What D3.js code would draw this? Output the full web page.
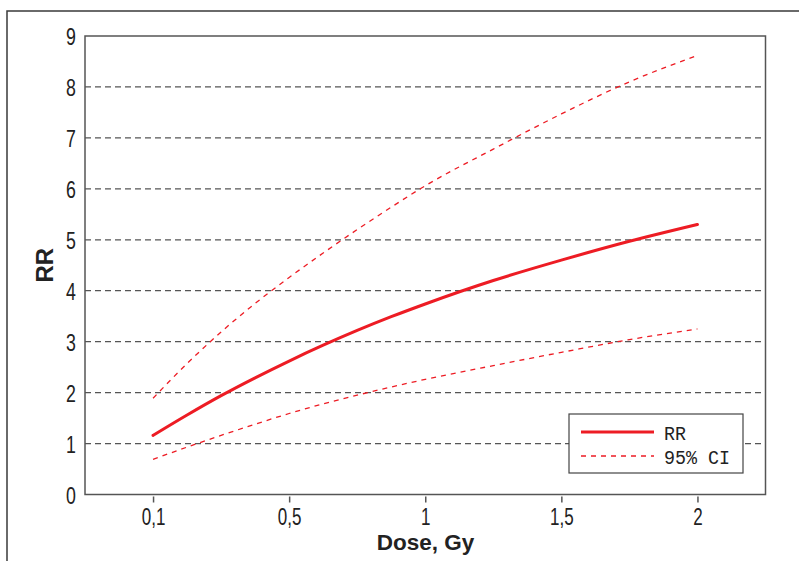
<!DOCTYPE html>
<html>
<head>
<meta charset="utf-8">
<script src="https://cdn.jsdelivr.net/npm/d3@7/dist/d3.min.js"></script>
<style>
  html, body { margin: 0; padding: 0; background: #fff; }
  svg { display: block; }
</style>
</head>
<body>
<svg id="chart" width="799" height="561"></svg>
<script>
// Dose categories shown on the x axis (Gy)
const doses = [0.1, 0.5, 1, 1.5, 2];
const doseLabels = ["0,1", "0,5", "1", "1,5", "2"];
const yTicks = [0, 1, 2, 3, 4, 5, 6, 7, 8, 9];

// Sampled dose points for the fitted curves
const curveDose = [0.1, 0.2, 0.3, 0.4, 0.5, 0.625, 0.75, 0.875, 1.0, 1.25, 1.5, 1.75, 2.0];
// Relative risk
const rr      = [1.16, 1.56, 1.94, 2.29, 2.62, 2.93, 3.22, 3.49, 3.74, 4.20, 4.60, 4.97, 5.30];
// 95% confidence interval bounds
const ciUpper = [1.89, 2.57, 3.19, 3.75, 4.26, 4.74, 5.20, 5.64, 6.06, 6.78, 7.47, 8.10, 8.62];
const ciLower = [0.69, 0.93, 1.16, 1.38, 1.59, 1.78, 1.95, 2.11, 2.26, 2.53, 2.79, 3.04, 3.25];

const legendItems = [
  { label: "RR", dashed: false },
  { label: "95% CI", dashed: true }
];

const svg = d3.select("#chart");
const margin = { left: 85, top: 36, right: 33.5, bottom: 66.5 };
const W = 799, H = 561;
const plotW = W - margin.left - margin.right;
const plotH = H - margin.top - margin.bottom;
const red = "#ed1c24";
const numFont = "'Liberation Sans', Arial, sans-serif";
const narrow = 0.74;

// Outer frame
svg.append("rect")
  .attr("x", 7).attr("y", 11)
  .attr("width", 820).attr("height", 600)
  .attr("fill", "none").attr("stroke", "#3a3a3a").attr("stroke-width", 1.5);

const g = svg.append("g").attr("transform", `translate(${margin.left},${margin.top})`);

// Categorical dose positions, then a piecewise-linear scale through them
const xPoint = d3.scalePoint().domain(doses).range([0, plotW]).padding(0.5);
const x = d3.scaleLinear()
  .domain(doses)
  .range(doses.map(d => xPoint(d)));
const y = d3.scaleLinear().domain([0, 9]).range([plotH, 0]);

// Horizontal dashed gridlines
g.append("g").selectAll("line")
  .data(yTicks.filter(t => t > 0 && t < 9))
  .join("line")
  .attr("x1", 0).attr("x2", plotW)
  .attr("y1", d => y(d)).attr("y2", d => y(d))
  .attr("stroke", "#555").attr("stroke-width", 1.2)
  .attr("stroke-dasharray", "6,4");

// Plot frame
g.append("rect")
  .attr("x", 0).attr("y", 0).attr("width", plotW).attr("height", plotH)
  .attr("fill", "none").attr("stroke", "#555").attr("stroke-width", 1.5);

// Y axis (condensed digits)
const yAxis = g.append("g")
  .call(d3.axisLeft(y).tickValues(yTicks).tickSize(0).tickFormat(d3.format("d")));
yAxis.select(".domain").remove();
yAxis.selectAll("text")
  .attr("font-family", numFont).attr("font-size", 24).attr("fill", "#222")
  .attr("x", -9 / narrow).attr("dy", "0.36em")
  .attr("transform", `scale(${narrow},1)`);

// X axis
const xAxis = g.append("g")
  .attr("transform", `translate(0,${plotH})`)
  .call(d3.axisBottom(xPoint).tickSize(0).tickPadding(0).tickFormat((d, i) => doseLabels[i]));
xAxis.select(".domain").remove();
xAxis.selectAll(".tick line").remove();
xAxis.selectAll(".tick").append("line")
  .attr("y1", 2).attr("y2", 8).attr("stroke", "#555").attr("stroke-width", 1.5);
xAxis.selectAll("text")
  .attr("font-family", numFont).attr("font-size", 23).attr("fill", "#222")
  .attr("y", 30.5).attr("dy", 0)
  .attr("transform", `scale(${narrow},1)`);

// Axis titles
svg.append("text")
  .attr("x", 425.5).attr("y", 550)
  .attr("text-anchor", "middle")
  .attr("font-family", "'Liberation Sans', Arial, sans-serif")
  .attr("font-weight", "bold").attr("font-size", 22.5).attr("fill", "#222")
  .text("Dose, Gy");
svg.append("text")
  .attr("transform", `translate(53,${margin.top + plotH / 2}) rotate(-90)`)
  .attr("text-anchor", "middle")
  .attr("font-family", "'Liberation Sans', Arial, sans-serif")
  .attr("font-weight", "bold").attr("font-size", 24).attr("fill", "#222")
  .text("RR");

// Curves
const line = d3.line()
  .x((d, i) => x(curveDose[i]))
  .y(d => y(d))
  .curve(d3.curveMonotoneX);

g.append("path").datum(ciUpper)
  .attr("d", line).attr("fill", "none")
  .attr("stroke", red).attr("stroke-width", 1.3).attr("stroke-dasharray", "5,5");
g.append("path").datum(ciLower)
  .attr("d", line).attr("fill", "none")
  .attr("stroke", red).attr("stroke-width", 1.3).attr("stroke-dasharray", "5,5");
g.append("path").datum(rr)
  .attr("d", line).attr("fill", "none")
  .attr("stroke", red).attr("stroke-width", 3).attr("stroke-linecap", "round");

// Legend
const legend = svg.append("g").attr("transform", "translate(569,414)");
legend.append("rect")
  .attr("x", 0).attr("y", 0).attr("width", 174).attr("height", 59)
  .attr("fill", "#fff").attr("stroke", "#444").attr("stroke-width", 1.2);
const items = legend.selectAll("g.item").data(legendItems).join("g")
  .attr("class", "item")
  .attr("transform", (d, i) => `translate(0,${18 + i * 24})`);
items.append("line")
  .attr("x1", 12).attr("x2", 85)
  .attr("stroke", red)
  .attr("stroke-width", d => d.dashed ? 1.3 : 3)
  .attr("stroke-dasharray", d => d.dashed ? "5,5" : null);
items.append("text")
  .attr("x", 95).attr("y", 0).attr("dy", "0.36em")
  .attr("font-family", "'Liberation Mono', 'DejaVu Sans Mono', monospace")
  .attr("font-size", 21).attr("fill", "#222")
  .attr("textLength", d => d.label.length * 11)
  .attr("lengthAdjust", "spacingAndGlyphs")
  .text(d => d.label);
</script>
</body>
</html>
